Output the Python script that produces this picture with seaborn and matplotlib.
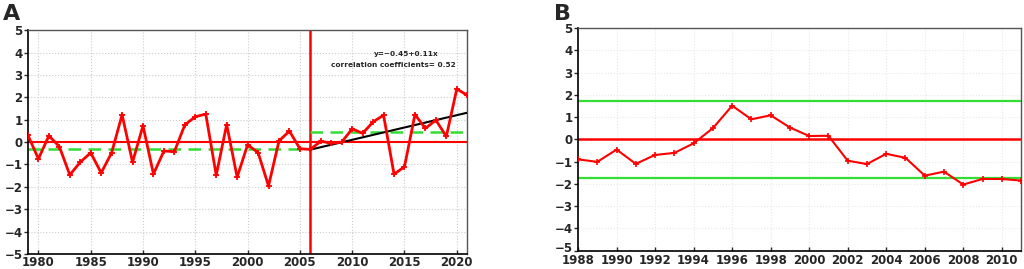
import numpy as np
import pandas as pd
import matplotlib
matplotlib.use('Agg')
import matplotlib.pyplot as plt
import matplotlib.transforms as mtransforms
import seaborn as sns

sns.set_style("white")
plt.rcParams['font.family'] = ['DejaVu Sans']
plt.rcParams['font.weight'] = 'bold'

# Panel A: annual index 1979-2021
years_a = list(range(1979, 2022))
values_a = [0.30, -0.75, 0.28, -0.20, -1.47, -0.90, -0.48, -1.38, -0.48, 1.22,
            -0.90, 0.73, -1.43, -0.40, -0.43, 0.77, 1.13, 1.25, -1.48, 0.78,
            -1.57, -0.12, -0.47, -1.96, 0.05, 0.49, -0.30, -0.33, 0.04, -0.06,
            0.00, 0.59, 0.39, 0.90, 1.20, -1.44, -1.10, 1.23, 0.61, 0.98,
            0.25, 2.37, 2.09]
change_year = 2006
mean_before = -0.30
mean_after = 0.47
trend_a, trend_b = -0.45, 0.11
corr_text = "correlation coefficients= 0.52"

# Panel B: Mann-Kendall style statistic 1988-2011
years_b = list(range(1988, 2012))
values_b = [-0.90, -1.01, -0.46, -1.10, -0.70, -0.61, -0.18, 0.50, 1.51, 0.90,
            1.08, 0.53, 0.15, 0.16, -0.96, -1.11, -0.65, -0.83, -1.63, -1.45,
            -2.03, -1.78, -1.78, -1.85]
sig_level = 1.74

df_a = pd.DataFrame({'year': years_a, 'value': values_a})
df_b = pd.DataFrame({'year': years_b, 'value': values_b})

red = '#ff0000'
green = '#33dd33'

fig = plt.figure(figsize=(10.24, 2.69), dpi=100)
ax1 = fig.add_axes([0.0273, 0.056, 0.429, 0.832])
ax2 = fig.add_axes([0.5645, 0.068, 0.4326, 0.828])

# ---- A ----
ax1.axhline(0, color=red, lw=1.5, zorder=2)
ax1.axvline(change_year, color=red, lw=1.8, zorder=2)
ax1.plot([years_a[0], change_year], [mean_before, mean_before], color=green,
         lw=1.8, ls=(0, (5, 3)), zorder=2)
ax1.plot([change_year, years_a[-1]], [mean_after, mean_after], color=green,
         lw=1.8, ls=(0, (5, 3)), zorder=2)
tx = np.array([change_year, years_a[-1]])
ty = trend_a + trend_b * (tx - change_year + 1)
ax1.plot(tx, ty, color='black', lw=1.5, zorder=3)
sns.lineplot(data=df_a, x='year', y='value', ax=ax1, color=red, lw=2,
             marker='+', markersize=4.5, markeredgewidth=1.3, markeredgecolor=red,
             zorder=4)
ax1.text(2015.2, 3.95, "y=\u22120.45+0.11x", fontsize=5.3, fontweight='bold', ha='center', va='center')
ax1.text(2013.9, 3.45, corr_text, fontsize=5.3, fontweight='bold', ha='center', va='center')
ax1.set_xlim(1979, 2021)
ax1.set_xticks(range(1980, 2021, 5))

# ---- B ----
ax2.axhline(0, color=red, lw=1.8, zorder=2)
ax2.axhline(sig_level, color=green, lw=1.6, zorder=2)
ax2.axhline(-sig_level, color=green, lw=1.6, zorder=2)
sns.lineplot(data=df_b, x='year', y='value', ax=ax2, color=red, lw=1.5,
             marker='+', markersize=4, markeredgewidth=1.2, markeredgecolor=red,
             zorder=4)
ax2.set_xlim(1988, 2011)
ax2.set_xticks(range(1988, 2011, 2))

for ax, grid_c, xpad in [(ax1, '#cccccc', 1.5), (ax2, '#e8e8e8', 2.5)]:
    ax.set_ylim(-5, 5)
    ax.set_yticks(range(-5, 6))
    ax.set_yticklabels([str(v).replace('-', '\u2212') for v in range(-5, 6)])
    ax.grid(True, ls=':', color=grid_c, lw=0.8)
    ax.set_xlabel('')
    ax.set_ylabel('')
    ax.tick_params(axis='y', direction='out', length=3, width=1, pad=1,
                   labelsize=8.5, left=True)
    ax.tick_params(axis='x', direction='in', length=3, width=1, pad=xpad,
                   labelsize=8.5, bottom=True)
    for lab in ax.get_xticklabels() + ax.get_yticklabels():
        lab.set_fontweight('bold')
    for side in ['left', 'bottom']:
        ax.spines[side].set_color('black')
        ax.spines[side].set_linewidth(1.2)
    for side in ['top', 'right']:
        ax.spines[side].set_color('#555555')
        ax.spines[side].set_linewidth(1.0)

# lift the lowest y label of B a touch so it clears "1988"
low = ax2.get_yticklabels()[0]
low.set_transform(low.get_transform() + mtransforms.ScaledTranslation(0, 2.5 / 72, fig.dpi_scale_trans))

fig.text(0.003, 0.985, 'A', fontsize=16, fontweight='bold', ha='left', va='top')
fig.text(0.541, 0.985, 'B', fontsize=16, fontweight='bold', ha='left', va='top')

fig.savefig('out.png', dpi=100)
